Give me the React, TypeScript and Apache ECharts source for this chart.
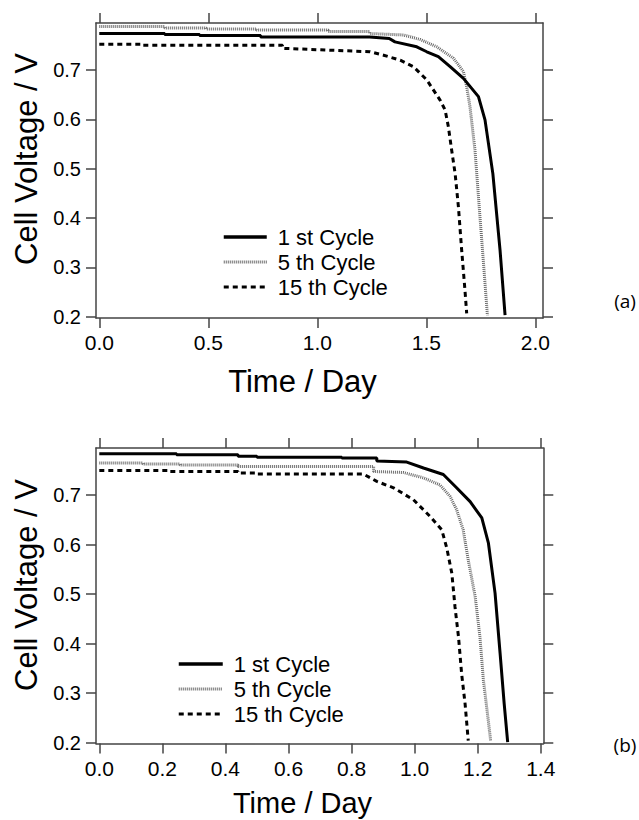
import React, { useEffect, useRef } from "react";
import * as echarts from "echarts";

// ---------- Data: chart (a) ----------
const seriesNames = ["1 st Cycle", "5 th Cycle", "15 th Cycle"];

const a1Time = [0, 0.3, 0.3, 0.46, 0.46, 0.74, 0.74, 1.24, 1.33, 1.356, 1.456, 1.502, 1.555, 1.609, 1.67, 1.739, 1.769, 1.805, 1.838, 1.861];
const a1Volt = [0.774, 0.774, 0.772, 0.772, 0.77, 0.77, 0.767, 0.767, 0.764, 0.757, 0.747, 0.737, 0.727, 0.707, 0.683, 0.646, 0.599, 0.49, 0.335, 0.203];

const a5Time = [0, 0.3, 0.3, 0.49, 0.49, 0.72, 0.72, 1.05, 1.05, 1.24, 1.24, 1.395, 1.471, 1.548, 1.624, 1.67, 1.685, 1.7, 1.723, 1.746, 1.769, 1.78];
const a5Volt = [0.788, 0.788, 0.785, 0.785, 0.783, 0.783, 0.781, 0.781, 0.778, 0.778, 0.774, 0.771, 0.762, 0.747, 0.724, 0.697, 0.666, 0.626, 0.538, 0.402, 0.268, 0.203];

const a15Time = [0, 0.2, 0.2, 0.84, 0.84, 1.242, 1.304, 1.38, 1.44, 1.502, 1.563, 1.586, 1.601, 1.616, 1.632, 1.647, 1.662, 1.677, 1.685];
const a15Volt = [0.752, 0.752, 0.75, 0.75, 0.744, 0.737, 0.73, 0.72, 0.707, 0.68, 0.639, 0.619, 0.585, 0.538, 0.49, 0.423, 0.335, 0.254, 0.207];

// ---------- Data: chart (b) ----------
const b1Time = [0, 0.245, 0.245, 0.44, 0.44, 0.5, 0.5, 0.769, 0.769, 0.88, 0.88, 0.975, 1.028, 1.091, 1.133, 1.176, 1.213, 1.234, 1.255, 1.271, 1.284, 1.295];
const b1Volt = [0.784, 0.784, 0.782, 0.782, 0.779, 0.779, 0.777, 0.777, 0.7755, 0.7755, 0.769, 0.767, 0.755, 0.742, 0.715, 0.687, 0.654, 0.603, 0.502, 0.38, 0.278, 0.201];

const b5Time = [0, 0.139, 0.139, 0.256, 0.256, 0.44, 0.44, 0.87, 0.87, 0.964, 1.028, 1.08, 1.112, 1.133, 1.154, 1.17, 1.192, 1.207, 1.218, 1.231, 1.241];
const b5Volt = [0.765, 0.765, 0.763, 0.763, 0.761, 0.761, 0.758, 0.758, 0.748, 0.746, 0.735, 0.721, 0.698, 0.671, 0.63, 0.569, 0.495, 0.414, 0.326, 0.258, 0.204];

const b15Time = [0, 0.224, 0.224, 0.44, 0.44, 0.5, 0.5, 0.837, 0.88, 0.933, 0.996, 1.049, 1.086, 1.102, 1.118, 1.128, 1.139, 1.149, 1.16, 1.17];
const b15Volt = [0.75, 0.75, 0.748, 0.748, 0.745, 0.745, 0.743, 0.743, 0.728, 0.715, 0.691, 0.657, 0.63, 0.593, 0.542, 0.474, 0.414, 0.339, 0.278, 0.204];

// ---------- Tick values ----------
const aXTicks = [0, 0.5, 1.0, 1.5, 2.0];
const bXTicks = [0, 0.2, 0.4, 0.6, 0.8, 1.0, 1.2, 1.4];
const yTicks = [0.2, 0.3, 0.4, 0.5, 0.6, 0.7];

const zip = (t: number[], v: number[]) => t.map((x, i) => [x, v[i]]);

const AXIS_COLOR = "#444";
const FONT = "Liberation Sans, Arial, sans-serif";

const lineStyles = [
  { color: "#000", width: 3, type: "solid" as any },
  { color: "#6a6a6a", width: 3, type: [1, 1] as any },
  { color: "#000", width: 3, type: [5, 4] as any },
];

function axisCommon(ticks: number[], showLabel: boolean, isX: boolean) {
  return {
    type: "value",
    axisLine: { show: true, onZero: false, lineStyle: { color: AXIS_COLOR, width: 1.5 } },
    axisTick: {
      show: true,
      inside: false,
      length: 10,
      customValues: ticks,
      lineStyle: { color: AXIS_COLOR, width: 1.5 },
    },
    axisLabel: {
      show: showLabel,
      customValues: ticks,
      formatter: (v: number) => v.toFixed(1),
      color: "#000",
      fontFamily: FONT,
      fontSize: isX ? 21 : 20,
      margin: isX ? 14 : 15,
    },
    splitLine: { show: false },
  };
}

export default function App() {
  const ref = useRef<HTMLDivElement>(null);

  useEffect(() => {
    if (!ref.current) return;
    const chart = echarts.init(ref.current, null, { renderer: "svg" });

    const grids = [
      { left: 96, top: 23, width: 447, height: 295 },
      { left: 96, top: 448, width: 447.3, height: 295.5 },
    ];

    const xRanges = [
      { min: -0.0151, max: 2.035, ticks: aXTicks },
      { min: -0.0105, max: 1.408, ticks: bXTicks },
    ];
    const yRanges = [
      { min: 0.1974, max: 0.7953 },
      { min: 0.198, max: 0.7955 },
    ];

    const xAxis: any[] = [];
    const yAxis: any[] = [];
    for (let g = 0; g < 2; g++) {
      xAxis.push({ ...axisCommon(xRanges[g].ticks, true, true), gridIndex: g, position: "bottom", min: xRanges[g].min, max: xRanges[g].max });
      xAxis.push({ ...axisCommon(xRanges[g].ticks, false, true), gridIndex: g, position: "top", min: xRanges[g].min, max: xRanges[g].max });
      yAxis.push({ ...axisCommon(yTicks, true, false), gridIndex: g, position: "left", min: yRanges[g].min, max: yRanges[g].max });
      yAxis.push({ ...axisCommon(yTicks, false, false), gridIndex: g, position: "right", min: yRanges[g].min, max: yRanges[g].max });
    }

    const dataSets = [
      [zip(a1Time, a1Volt), zip(a5Time, a5Volt), zip(a15Time, a15Volt)],
      [zip(b1Time, b1Volt), zip(b5Time, b5Volt), zip(b15Time, b15Volt)],
    ];

    const series: any[] = [];
    for (let g = 0; g < 2; g++) {
      for (let s = 0; s < 3; s++) {
        series.push({
          type: "line",
          name: seriesNames[s],
          xAxisIndex: g * 2,
          yAxisIndex: g * 2,
          data: dataSets[g][s],
          showSymbol: false,
          symbol: "none",
          lineStyle: lineStyles[s],
          itemStyle: { color: lineStyles[s].color },
          z: 3 - s,
        });
      }
    }

    const legendCommon = {
      orient: "vertical",
      padding: 0,
      itemHeight: 14,
      itemGap: 3,
      selectedMode: false,
      data: seriesNames.map((n, i) => ({
        name: n,
        lineStyle: {
          width: i === 0 ? 3.5 : 3,
          color: lineStyles[i].color,
          type: lineStyles[i].type,
        },
      })),
      itemStyle: { opacity: 0, color: "rgba(0,0,0,0)", borderWidth: 0 },
      textStyle: { fontFamily: FONT, fontSize: 22, lineHeight: 22, color: "#000", padding: [0, 0, 0, 6] },
    };

    const titleStyle = { fontFamily: FONT, fontSize: 31, fill: "#000", textAlign: "center", textVerticalAlign: "middle" };
    const tagStyle = { fontFamily: "Open Sans, Noto Sans, sans-serif", fontSize: 19, fill: "#000", textAlign: "center", textVerticalAlign: "middle" };

    chart.setOption({
      animation: false,
      backgroundColor: "#fff",
      grid: grids,
      xAxis,
      yAxis,
      series,
      legend: [
        { ...legendCommon, left: 222, top: 226, itemWidth: 43 },
        { ...legendCommon, left: 177, top: 653, itemWidth: 44 },
      ],
      graphic: [
        { type: "text", x: 26, y: 159, rotation: Math.PI / 2, style: { ...titleStyle, text: "Cell Voltage / V" } },
        { type: "text", x: 26, y: 585, rotation: Math.PI / 2, style: { ...titleStyle, text: "Cell Voltage / V" } },
        { type: "text", x: 302.5, y: 381, style: { ...titleStyle, text: "Time / Day" } },
        { type: "text", x: 302.5, y: 803, style: { ...titleStyle, fontSize: 29, text: "Time / Day" } },
        { type: "text", x: 625, y: 301, style: { ...tagStyle, text: "(a)" } },
        { type: "text", x: 625, y: 745, style: { ...tagStyle, text: "(b)" } },
      ],
    });

    return () => chart.dispose();
  }, []);

  return <div ref={ref} style={{ position: "absolute", left: 0, top: 0, width: 639, height: 820 }} />;
}
